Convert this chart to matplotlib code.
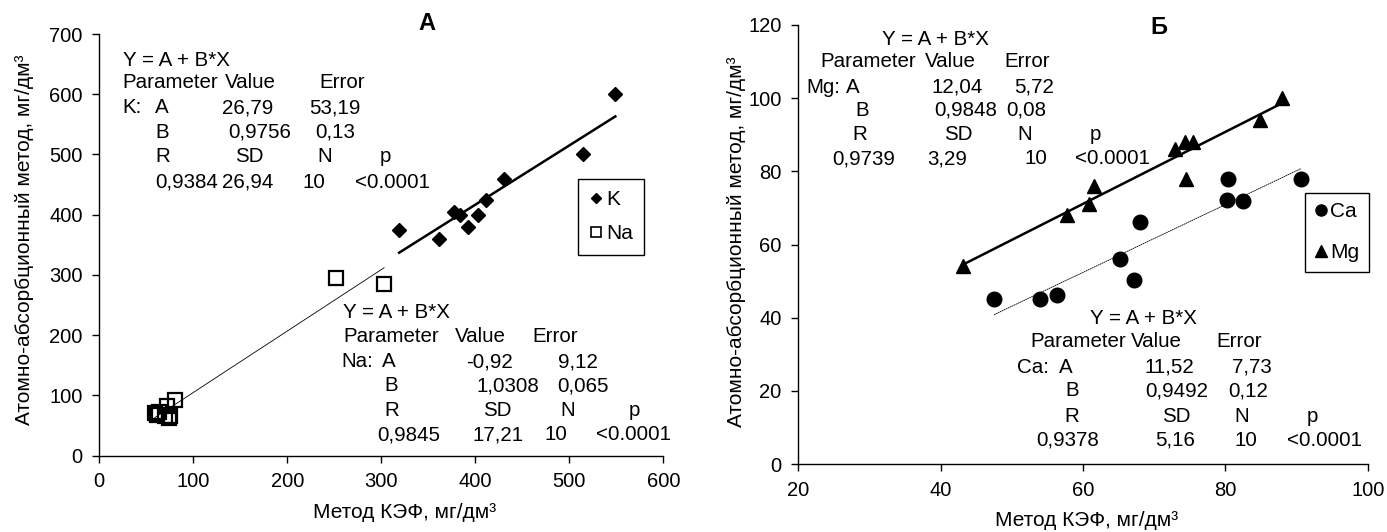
import numpy as np
import matplotlib.pyplot as plt
from matplotlib.lines import Line2D
from matplotlib import font_manager

plt.rcParams['font.family'] = ['Liberation Sans', 'DejaVu Sans']

# ---- данные, панель А ----
k_x = [319, 361, 377, 384, 392, 403, 411, 431, 515, 549]
k_y = [375, 360, 405, 400, 380, 400, 425, 460, 500, 600]
na_x = [59, 61, 63, 70, 72, 74, 75, 81, 252, 303]
na_y = [70, 68, 72, 65, 82, 63, 66, 93, 295, 285]

# ---- данные, панель Б ----
ca_x = [47.5, 54.0, 56.4, 65.2, 67.2, 68.0, 80.2, 80.4, 82.5, 90.6]
ca_y = [45.1, 45.1, 46.1, 56.0, 50.2, 66.2, 72.3, 78.0, 72.0, 78.0]
mg_x = [43.2, 57.7, 60.9, 61.5, 72.9, 74.4, 75.5, 74.5, 84.9, 88.0]
mg_y = [54.0, 68.0, 71.0, 76.0, 86.0, 88.0, 88.0, 78.0, 94.0, 100.0]

# ---- таблицы регрессии ----
k_table = [["Y = A + B*X"],
           ["Parameter", "Value", "Error"],
           ["K:", "A", "26,79", "53,19"],
           ["B", "0,9756", "0,13"],
           ["R", "SD", "N", "p"],
           ["0,9384", "26,94", "10", "<0.0001"]]
na_table = [["Y = A + B*X"],
            ["Parameter", "Value", "Error"],
            ["Na:", "A", "-0,92", "9,12"],
            ["B", "1,0308", "0,065"],
            ["R", "SD", "N", "p"],
            ["0,9845", "17,21", "10", "<0.0001"]]
mg_table = [["Y = A + B*X"],
            ["Parameter", "Value", "Error"],
            ["Mg:", "A", "12,04", "5,72"],
            ["B", "0,9848", "0,08"],
            ["R", "SD", "N", "p"],
            ["0,9739", "3,29", "10", "<0.0001"]]
ca_table = [["Y = A + B*X"],
            ["Parameter", "Value", "Error"],
            ["Ca:", "A", "11,52", "7,73"],
            ["B", "0,9492", "0,12"],
            ["R", "SD", "N", "p"],
            ["0,9378", "5,16", "10", "<0.0001"]]

xlabel = "Метод КЭФ, мг/дм³"
ylabel = "Атомно-абсорбционный метод, мг/дм³"

# узкий жирный шрифт для букв А и Б, если есть
names = sorted({f.name for f in font_manager.fontManager.ttflist})
narrow = [n for n in names if 'Narrow' in n or 'Condensed' in n]
title_family = narrow[:1] + ['Liberation Sans']

W, H = 1387, 532
fig = plt.figure(figsize=(W / 100, H / 100), dpi=100)


def fx(x):
    return x / W


def fy(y):
    return 1 - y / H


def put_table(table, rows, cols, size=14.8):
    # каждая ячейка отдельным текстом, координаты в пикселях картинки
    for cells, y, xs in zip(table, rows, cols):
        for s, x in zip(cells, xs):
            fig.text(fx(x), fy(y), s, fontsize=size, ha='left', va='center')


def fit_line(ax, x, y, lw, ls='-'):
    b, a = np.polyfit(x, y, 1)
    xx = np.array([min(x), max(x)])
    ax.plot(xx, a + b * xx, color='black', lw=lw, ls=ls, zorder=2)


def style(ax):
    for s in ['top', 'right']:
        ax.spines[s].set_visible(False)
    for s in ['left', 'bottom']:
        ax.spines[s].set_linewidth(1.0)
    ax.tick_params(direction='out', length=5, width=1, labelsize=14.5, pad=7)


# ---------------- панель А ----------------
ax1 = fig.add_axes([fx(99.3), fy(455.5), fx(663.3) - fx(99.3), fy(34) - fy(455.5)])
fit_line(ax1, k_x, k_y, lw=1.8)
fit_line(ax1, na_x, na_y, lw=0.6)
ax1.plot(k_x, k_y, 'D', color='black', ms=7, ls='none', zorder=3)
ax1.plot(na_x, na_y, 's', mfc='none', mec='black', mew=1.6, ms=9.5, ls='none', zorder=3)
ax1.set_xlim(0, 600)
ax1.set_ylim(0, 700)
ax1.set_xticks(np.arange(0, 601, 100))
ax1.set_yticks(np.arange(0, 701, 100))
style(ax1)

# ---------------- панель Б ----------------
ax2 = fig.add_axes([fx(798.3), fy(464), fx(1367.7) - fx(798.3), fy(25) - fy(464)])
fit_line(ax2, mg_x, mg_y, lw=1.8)
fit_line(ax2, ca_x, ca_y, lw=0.6, ls=(0, (2, 0.6)))
ax2.plot(ca_x, ca_y, 'o', color='black', ms=10.5, ls='none', zorder=3)
ax2.plot(mg_x, mg_y, '^', color='black', ms=10.5, ls='none', zorder=3)
ax2.set_xlim(20, 100)
ax2.set_ylim(0, 120)
ax2.set_xticks(np.arange(20, 101, 20))
ax2.set_yticks(np.arange(0, 121, 20))
style(ax2)

# подписи осей
fig.text(fx(405), fy(513), xlabel, fontsize=15, ha='center', va='center')
fig.text(fx(1087), fy(520), xlabel, fontsize=15, ha='center', va='center')
fig.text(fx(25), fy(240), ylabel, fontsize=15, ha='center', va='center', rotation=90)
fig.text(fx(737), fy(242), ylabel, fontsize=15, ha='center', va='center', rotation=90)

# заголовки
fig.text(fx(427), fy(23), "А", fontsize=17, fontweight='bold', ha='center', va='center',
         family=title_family)
fig.text(fx(1159), fy(28), "Б", fontsize=17, fontweight='bold', ha='center', va='center',
         family=title_family)

# легенды
h1 = [Line2D([], [], marker='D', color='black', ls='none', ms=5.5),
      Line2D([], [], marker='s', mfc='none', mec='black', mew=1.2, ls='none', ms=7.5)]
leg1 = fig.legend(h1, ["K", "Na"], loc='upper left', bbox_to_anchor=(fx(578), fy(179)),
                  bbox_transform=fig.transFigure, fontsize=15, frameon=True, fancybox=False,
                  edgecolor='black', framealpha=1, handlelength=0.6, handletextpad=0.2,
                  labelspacing=0.7, borderpad=0.55, borderaxespad=0)
leg1.get_frame().set_linewidth(1.0)

h2 = [Line2D([], [], marker='o', color='black', ls='none', ms=8),
      Line2D([], [], marker='^', color='black', ls='none', ms=8)]
leg2 = fig.legend(h2, ["Ca", "Mg"], loc='upper left', bbox_to_anchor=(fx(1305), fy(193)),
                  bbox_transform=fig.transFigure, fontsize=15, frameon=True, fancybox=False,
                  edgecolor='black', framealpha=1, handlelength=0.6, handletextpad=0.15,
                  labelspacing=1.05, borderpad=0.45, borderaxespad=0)
leg2.get_frame().set_linewidth(1.0)

# таблицы регрессии
put_table(k_table, [60.4, 82.5, 108, 132, 157, 182.5],
          [[122.7], [122.7, 225, 319], [122.7, 155, 221.7, 309], [155, 228, 315.6],
           [155, 235, 317, 379.5], [155, 221.7, 302.7, 355]])
put_table(na_table, [313, 336.7, 361.5, 385.9, 410.3, 435],
          [[342.9], [343, 455, 532], [341, 381.7, 466.5, 558], [384, 476.8, 557],
           [384, 483, 560, 628.6], [377, 473, 544.6, 596]])
put_table(mg_table, [39.3, 61.7, 87.3, 110, 135, 159],
          [[881.7], [820, 925, 1004.3], [806, 846, 931.7, 1014.3], [855, 934, 1006.7],
           [852.7, 944, 1017.7, 1090], [832, 926.8, 1024, 1075]])
put_table(ca_table, [318.3, 341.7, 367.3, 390.7, 416, 440],
          [[1090], [1030, 1131, 1216], [1017, 1059, 1145, 1232.3], [1065.7, 1145.7, 1228.3],
           [1064.3, 1161.7, 1234.3, 1306.7], [1036.7, 1155, 1235, 1286.7]])

fig.savefig('out.png', dpi=100)
